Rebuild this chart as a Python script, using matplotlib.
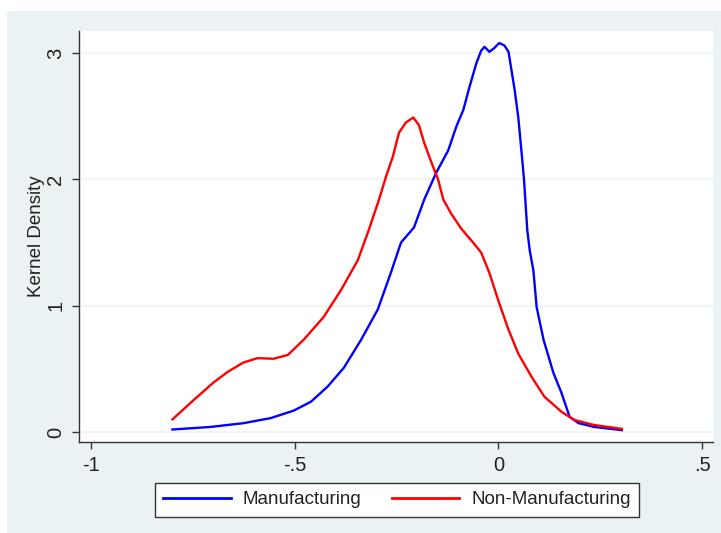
import matplotlib
matplotlib.use("Agg")
import matplotlib.pyplot as plt
from matplotlib.patches import Rectangle

plt.rcParams['font.family'] = ['Liberation Sans', 'DejaVu Sans']

# kernel density curves
mfg_x = [-0.80, -0.707, -0.626, -0.559, -0.502, -0.46, -0.419, -0.379, -0.337, -0.296,
         -0.264, -0.239, -0.207, -0.182, -0.153, -0.123, -0.103, -0.086, -0.071, -0.054,
         -0.042, -0.034, -0.022, -0.010, 0.002, 0.015, 0.025, 0.032, 0.040, 0.049,
         0.058, 0.063, 0.071, 0.077, 0.086, 0.094, 0.111, 0.135, 0.155, 0.175,
         0.197, 0.236, 0.303]
mfg_y = [0.02, 0.04, 0.07, 0.11, 0.17, 0.24, 0.36, 0.51, 0.73, 0.97,
         1.26, 1.50, 1.62, 1.84, 2.05, 2.23, 2.42, 2.55, 2.73, 2.92,
         3.02, 3.05, 3.01, 3.04, 3.08, 3.06, 3.01, 2.87, 2.71, 2.49,
         2.18, 2.00, 1.60, 1.44, 1.28, 0.99, 0.73, 0.47, 0.31, 0.12,
         0.07, 0.04, 0.015]

non_x = [-0.80, -0.749, -0.70, -0.665, -0.626, -0.591, -0.552, -0.517, -0.478, -0.429,
         -0.387, -0.345, -0.318, -0.293, -0.276, -0.259, -0.244, -0.227, -0.209, -0.195,
         -0.182, -0.165, -0.148, -0.135, -0.116, -0.091, -0.062, -0.042, -0.022, 0.0,
         0.025, 0.049, 0.081, 0.113, 0.155, 0.187, 0.236, 0.303]
non_y = [0.10, 0.25, 0.39, 0.475, 0.55, 0.585, 0.58, 0.61, 0.73, 0.91,
         1.12, 1.36, 1.60, 1.84, 2.02, 2.18, 2.37, 2.45, 2.49, 2.43,
         2.29, 2.14, 2.00, 1.84, 1.73, 1.61, 1.50, 1.42, 1.26, 1.04,
         0.81, 0.62, 0.44, 0.28, 0.16, 0.095, 0.055, 0.025]

xticks = [-1, -0.5, 0, 0.5]
xlabels = ['-1', '-.5', '0', '.5']
yticks = [0, 1, 2, 3]

W, H = 721, 533
bg = '#eaf2f3'
fig = plt.figure(figsize=(W / 100, H / 100), dpi=100, facecolor='white')
fig.patches.append(Rectangle((7 / W, 0), 1 - 7 / W, 1 - 11 / H, transform=fig.transFigure,
                             facecolor=bg, edgecolor='none', zorder=-10))

ax = fig.add_axes([79 / W, (H - 442) / H, (713 - 79) / W, (442 - 31) / H], zorder=1)
ax.set_facecolor('white')

ax.plot(mfg_x, mfg_y, color='#0000ff', lw=1.7, label='Manufacturing')
ax.plot(non_x, non_y, color='#ff0000', lw=1.7, label='Non-Manufacturing')

ax.set_xlim(-1.0295, 0.527)
ax.set_ylim(-0.079, 3.175)
ax.set_xticks(xticks)
ax.set_xticklabels(xlabels)
ax.set_yticks(yticks)
ax.set_yticklabels([str(v) for v in yticks], rotation=90, va='center')
ax.grid(axis='y', color='#eef4f4', lw=1.2)
ax.set_axisbelow(True)

for s in ['top', 'right']:
    ax.spines[s].set_visible(False)
for s in ['left', 'bottom']:
    ax.spines[s].set_color('#333333')
    ax.spines[s].set_linewidth(1.0)
ax.tick_params(length=5, width=1, color='#333333', labelsize=14.5, labelcolor='#222222', pad=5)

ax.set_ylabel('Kernel Density', fontsize=13.5, color='#222222')
ax.yaxis.set_label_coords(-0.054, 0.5)

leg = fig.legend(loc='center', bbox_to_anchor=((157 + 637) / 2 / W, 1 - 499.5 / H),
                 ncol=2, fontsize=13.5, frameon=True, fancybox=False, shadow=False,
                 framealpha=1, handlelength=3.6, handletextpad=0.65, columnspacing=1.6,
                 borderpad=0.45)
leg.get_frame().set_edgecolor('#333333')
leg.get_frame().set_linewidth(1.0)
leg.get_frame().set_facecolor('white')
for t in leg.get_texts():
    t.set_color('#222222')
for l in leg.get_lines():
    l.set_linewidth(2.0)

fig.savefig('out.png', dpi=100, facecolor='white')
